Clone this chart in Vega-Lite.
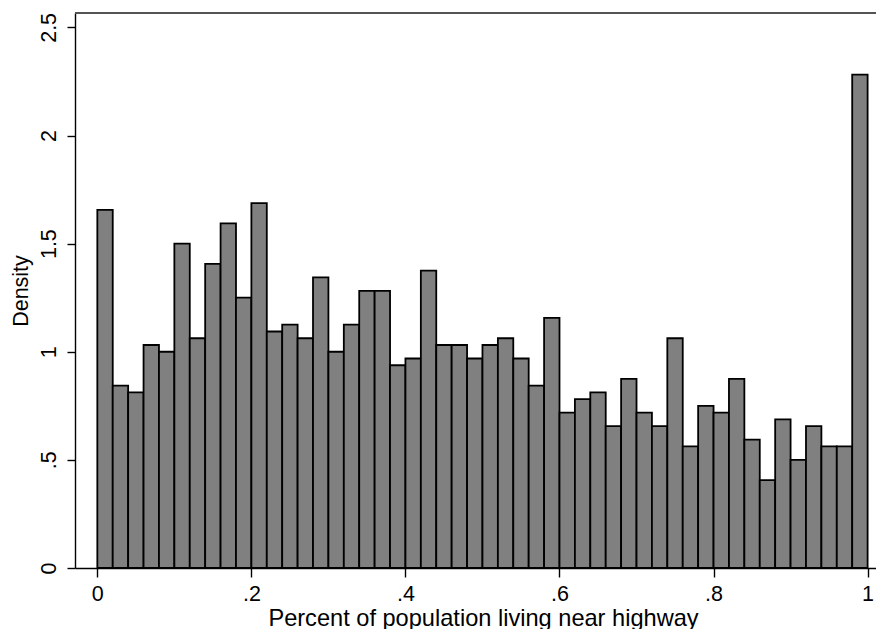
{
  "$schema": "https://vega.github.io/schema/vega-lite/v6.json",
  "width": 801,
  "height": 555,
  "autosize": {"type": "none"},
  "padding": {"left": 75, "top": 13, "right": 0, "bottom": 61},
  "background": "white",
  "view": {"stroke": null},
  "config": {
    "font": "Liberation Sans",
    "axis": {"grid": false, "labelColor": "black", "titleColor": "black", "titleFontWeight": "normal", "domainColor": "black", "tickColor": "black", "domainWidth": 1.4, "tickWidth": 1.4}
  },
  "data": {
    "values": [
      {"bin_start": 0.00, "bin_end": 0.02, "density": 1.65625},
      {"bin_start": 0.02, "bin_end": 0.04, "density": 0.84375},
      {"bin_start": 0.04, "bin_end": 0.06, "density": 0.8125},
      {"bin_start": 0.06, "bin_end": 0.08, "density": 1.03125},
      {"bin_start": 0.08, "bin_end": 0.10, "density": 1.0},
      {"bin_start": 0.10, "bin_end": 0.12, "density": 1.5},
      {"bin_start": 0.12, "bin_end": 0.14, "density": 1.0625},
      {"bin_start": 0.14, "bin_end": 0.16, "density": 1.40625},
      {"bin_start": 0.16, "bin_end": 0.18, "density": 1.59375},
      {"bin_start": 0.18, "bin_end": 0.20, "density": 1.25},
      {"bin_start": 0.20, "bin_end": 0.22, "density": 1.6875},
      {"bin_start": 0.22, "bin_end": 0.24, "density": 1.09375},
      {"bin_start": 0.24, "bin_end": 0.26, "density": 1.125},
      {"bin_start": 0.26, "bin_end": 0.28, "density": 1.0625},
      {"bin_start": 0.28, "bin_end": 0.30, "density": 1.34375},
      {"bin_start": 0.30, "bin_end": 0.32, "density": 1.0},
      {"bin_start": 0.32, "bin_end": 0.34, "density": 1.125},
      {"bin_start": 0.34, "bin_end": 0.36, "density": 1.28125},
      {"bin_start": 0.36, "bin_end": 0.38, "density": 1.28125},
      {"bin_start": 0.38, "bin_end": 0.40, "density": 0.9375},
      {"bin_start": 0.40, "bin_end": 0.42, "density": 0.96875},
      {"bin_start": 0.42, "bin_end": 0.44, "density": 1.375},
      {"bin_start": 0.44, "bin_end": 0.46, "density": 1.03125},
      {"bin_start": 0.46, "bin_end": 0.48, "density": 1.03125},
      {"bin_start": 0.48, "bin_end": 0.50, "density": 0.96875},
      {"bin_start": 0.50, "bin_end": 0.52, "density": 1.03125},
      {"bin_start": 0.52, "bin_end": 0.54, "density": 1.0625},
      {"bin_start": 0.54, "bin_end": 0.56, "density": 0.96875},
      {"bin_start": 0.56, "bin_end": 0.58, "density": 0.84375},
      {"bin_start": 0.58, "bin_end": 0.60, "density": 1.15625},
      {"bin_start": 0.60, "bin_end": 0.62, "density": 0.71875},
      {"bin_start": 0.62, "bin_end": 0.64, "density": 0.78125},
      {"bin_start": 0.64, "bin_end": 0.66, "density": 0.8125},
      {"bin_start": 0.66, "bin_end": 0.68, "density": 0.65625},
      {"bin_start": 0.68, "bin_end": 0.70, "density": 0.875},
      {"bin_start": 0.70, "bin_end": 0.72, "density": 0.71875},
      {"bin_start": 0.72, "bin_end": 0.74, "density": 0.65625},
      {"bin_start": 0.74, "bin_end": 0.76, "density": 1.0625},
      {"bin_start": 0.76, "bin_end": 0.78, "density": 0.5625},
      {"bin_start": 0.78, "bin_end": 0.80, "density": 0.75},
      {"bin_start": 0.80, "bin_end": 0.82, "density": 0.71875},
      {"bin_start": 0.82, "bin_end": 0.84, "density": 0.875},
      {"bin_start": 0.84, "bin_end": 0.86, "density": 0.59375},
      {"bin_start": 0.86, "bin_end": 0.88, "density": 0.40625},
      {"bin_start": 0.88, "bin_end": 0.90, "density": 0.6875},
      {"bin_start": 0.90, "bin_end": 0.92, "density": 0.5},
      {"bin_start": 0.92, "bin_end": 0.94, "density": 0.65625},
      {"bin_start": 0.94, "bin_end": 0.96, "density": 0.5625},
      {"bin_start": 0.96, "bin_end": 0.98, "density": 0.5625},
      {"bin_start": 0.98, "bin_end": 1.00, "density": 2.28125}
    ]
  },
  "layer": [
    {
      "mark": {"type": "bar", "fill": "#808080", "stroke": "black", "strokeWidth": 1.8, "opacity": 1},
      "encoding": {
        "x": {
          "field": "bin_start", "type": "quantitative",
          "scale": {"domain": [-0.029, 1.0109], "nice": false, "zero": false},
          "axis": {
            "title": "Percent of population living near highway",
            "values": [0, 0.2, 0.4, 0.6, 0.8, 1],
            "labelExpr": "datum.value == 0 ? '0' : datum.value == 1 ? '1' : replace(format(datum.value, '.1f'), '0.', '.')",
            "labelFontSize": 21.5, "tickSize": 9, "labelPadding": 23, "labelBaseline": "alphabetic",
            "titleFontSize": 23.6, "titleX": 408, "titleY": 57, "titleAlign": "center", "titleBaseline": "alphabetic", "titleAnchor": null
          }
        },
        "x2": {"field": "bin_end"},
        "y": {
          "field": "density", "type": "quantitative",
          "scale": {"domain": [0, 2.5665], "nice": false, "zero": true},
          "axis": {
            "title": "Density",
            "values": [0, 0.5, 1, 1.5, 2, 2.5],
            "labelExpr": "datum.value == 0.5 ? '.5' : format(datum.value, '~g')",
            "labelFontSize": 21.5, "labelAngle": -90, "labelAlign": "center", "labelBaseline": "alphabetic", "tickSize": 8, "labelPadding": 12,
            "titleFontSize": 21.5, "titleX": -48, "titleY": 277.5, "titleAngle": -90, "titleAlign": "center", "titleBaseline": "alphabetic"
          }
        },
        "y2": {"datum": 0}
      }
    },
    {
      "mark": {"type": "rule", "color": "#555555", "strokeWidth": 1.4},
      "encoding": {"y": {"datum": 2.5665}}
    }
  ]
}
